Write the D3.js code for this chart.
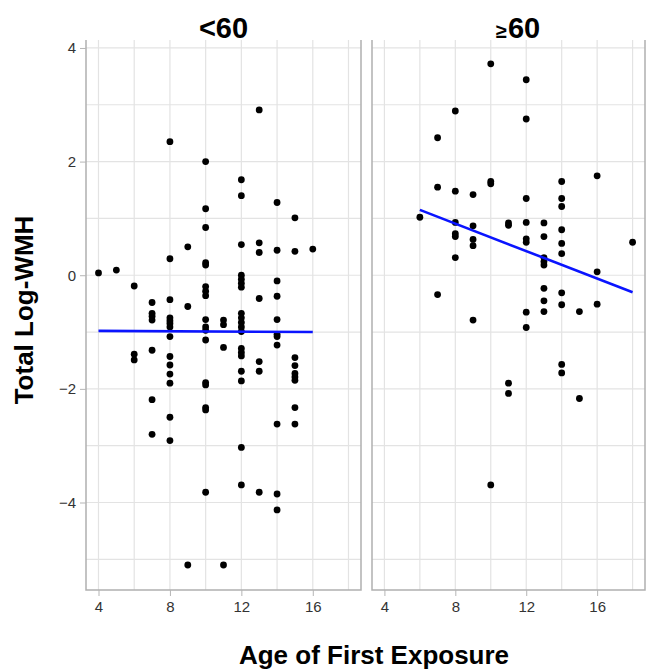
<!DOCTYPE html>
<html>
<head>
<meta charset="utf-8">
<script src="https://cdn.jsdelivr.net/npm/d3@7"></script>
<style>
  body { margin: 0; background: #fff; }
  svg { font-family: "Liberation Sans", Arial, sans-serif; }
  .grid line { stroke: #e3e3e3; stroke-width: 1.2; }
  .tick text { fill: #333; font-size: 15px; }
  .tick line { stroke: #b5b5b5; }
</style>
</head>
<body>
<div id="chart"></div>
<script>
// panneaux : age < 60 et age >= 60
const panelLabels = ["<60", "\u226560"];

// age de premiere exposition / total log-WMH
const youngX = [4, 5,
  6, 6, 6,
  7, 7, 7, 7, 7, 7, 7,
  8, 8, 8, 8, 8, 8, 8, 8, 8, 8, 8, 8, 8, 8,
  9, 9, 9,
  10, 10, 10, 10, 10, 10, 10, 10, 10, 10, 10, 10, 10, 10, 10, 10, 10,
  11, 11, 11, 11,
  12, 12, 12, 12, 12, 12, 12, 12, 12, 12, 12, 12, 12, 12, 12, 12, 12, 12, 12,
  13, 13, 13, 13, 13, 13, 13,
  14, 14, 14, 14, 14, 14, 14, 14, 14, 14, 14,
  15, 15, 15, 15, 15, 15, 15, 15, 15,
  16];
const youngY = [0.04, 0.09,
  -0.19, -1.39, -1.49,
  -0.48, -0.67, -0.72, -0.79, -1.32, -2.19, -2.80,
  2.35, 0.29, -0.43, -0.75, -0.80, -0.85, -0.91, -1.08, -1.43, -1.58, -1.74, -1.90, -2.50, -2.91,
  0.50, -0.55, -5.10,
  2.00, 1.17, 0.84, 0.22, 0.18, -0.20, -0.28, -0.36, -0.78, -0.91, -0.97, -1.14, -1.89, -1.93, -2.33, -2.37, -3.82,
  -0.79, -0.87, -1.27, -5.10,
  1.68, 1.40, 0.54, 0.00, -0.07, -0.14, -0.21, -0.67, -0.75, -0.83, -0.91, -0.99, -1.29, -1.36, -1.42, -1.69, -1.86, -3.03, -3.69,
  2.91, 0.57, 0.40, -0.41, -1.52, -1.69, -3.82,
  1.28, 0.44, -0.10, -0.37, -0.78, -1.04, -1.08, -1.23, -2.62, -3.85, -4.13,
  1.01, 0.42, -1.45, -1.59, -1.73, -1.79, -1.85, -2.33, -2.62,
  0.46];

const oldX = [6,
  7, 7, 7,
  8, 8, 8, 8, 8, 8,
  9, 9, 9, 9, 9,
  10, 10, 10, 10,
  11, 11, 11, 11,
  12, 12, 12, 12, 12, 12, 12, 12,
  13, 13, 13, 13, 13, 13, 13, 13,
  14, 14, 14, 14, 14, 14, 14, 14, 14, 14,
  15, 15,
  16, 16, 16,
  18];
const oldY = [1.02,
  2.42, 1.55, -0.34,
  2.89, 1.48, 0.93, 0.73, 0.68, 0.31,
  1.42, 0.87, 0.63, 0.52, -0.79,
  3.72, 1.65, 1.61, -3.69,
  0.92, 0.88, -1.90, -2.08,
  3.44, 2.75, 1.35, 0.93, 0.64, 0.58, -0.65, -0.92,
  0.92, 0.68, 0.31, 0.24, 0.18, -0.23, -0.45, -0.64,
  1.65, 1.35, 1.21, 0.80, 0.56, 0.38, -0.31, -0.52, -1.57, -1.72,
  -0.64, -2.17,
  1.75, 0.06, -0.51,
  0.58];

// droites de regression (extremites)
const youngFitX = [4, 16];
const youngFitY = [-0.98, -1.0];
const oldFitX = [6, 18];
const oldFitY = [1.15, -0.30];

const xTicks = [4, 8, 12, 16];
const yTicks = [-4, -2, 0, 2, 4];

const W = 647, H = 671;
const panelTop = 40, panelBottom = 590;
const panelRanges = [[86, 361], [372, 645]];

const svg = d3.select("#chart").append("svg")
  .attr("width", W).attr("height", H);

const y = d3.scaleLinear().domain([-5.54, 4.14]).range([panelBottom, panelTop]);

const panels = [
  { label: panelLabels[0], xs: youngX, ys: youngY, fx: youngFitX, fy: youngFitY },
  { label: panelLabels[1], xs: oldX, ys: oldY, fx: oldFitX, fy: oldFitY }
];

panels.forEach((p, i) => {
  const [x0, x1] = panelRanges[i];
  const x = d3.scaleLinear().domain([3.3, 18.7]).range([x0, x1]);
  const g = svg.append("g");

  // grille (majeure + mineure)
  const grid = g.append("g").attr("class", "grid");
  grid.selectAll(".gx").data(d3.range(4, 19, 2)).enter().append("line")
    .attr("x1", d => x(d)).attr("x2", d => x(d))
    .attr("y1", panelTop).attr("y2", panelBottom);
  grid.selectAll(".gy").data(d3.range(-5, 5, 1)).enter().append("line")
    .attr("x1", x0).attr("x2", x1)
    .attr("y1", d => y(d)).attr("y2", d => y(d));

  // bordures du panneau (sans haut)
  g.append("path")
    .attr("d", `M${x0},${panelTop}V${panelBottom}H${x1}V${panelTop}`)
    .attr("fill", "none")
    .attr("stroke", "#b0b0b0")
    .attr("stroke-width", 1.5);

  // axe x
  const xa = g.append("g")
    .attr("transform", `translate(0,${panelBottom})`)
    .call(d3.axisBottom(x).tickValues(xTicks).tickSize(6).tickPadding(5));
  xa.select(".domain").remove();

  // points
  g.append("g").selectAll("circle")
    .data(p.xs.map((v, k) => [v, p.ys[k]]))
    .enter().append("circle")
    .attr("cx", d => x(d[0]))
    .attr("cy", d => y(d[1]))
    .attr("r", 3.4)
    .attr("fill", "#000");

  // droite lm
  g.append("line")
    .attr("x1", x(p.fx[0])).attr("y1", y(p.fy[0]))
    .attr("x2", x(p.fx[1])).attr("y2", y(p.fy[1]))
    .attr("stroke", "#0a14ff")
    .attr("stroke-width", 2.6);

  // titre du panneau
  const t = g.append("text")
    .attr("y", 38)
    .attr("font-weight", "bold")
    .attr("fill", "#000");
  if (i === 0) {
    t.attr("x", (x0 + x1) / 2).attr("text-anchor", "middle")
      .attr("font-size", 29).text(p.label);
  } else {
    t.attr("x", 496);
    t.append("tspan").attr("font-size", 20).text(p.label.charAt(0));
    t.append("tspan").attr("font-size", 29).attr("dx", 1).text(p.label.slice(1));
  }
});

// axe y
const ya = svg.append("g")
  .attr("transform", `translate(${panelRanges[0][0]},0)`)
  .call(d3.axisLeft(y).tickValues(yTicks).tickSize(6).tickPadding(4));
ya.select(".domain").remove();

// titres des axes
svg.append("text")
  .attr("x", 374).attr("y", 664)
  .attr("text-anchor", "middle")
  .attr("font-weight", "bold")
  .attr("font-size", 26)
  .text("Age of First Exposure");

svg.append("text")
  .attr("transform", "translate(33,310) rotate(-90)")
  .attr("text-anchor", "middle")
  .attr("font-weight", "bold")
  .attr("font-size", 26)
  .text("Total Log-WMH");
</script>
</body>
</html>
